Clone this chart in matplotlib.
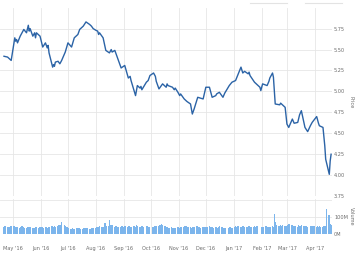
import matplotlib
matplotlib.use("Agg")
import matplotlib.pyplot as plt
import pandas as pd

# Price line (date, close)
price_dates = [
    "2016-04-21", "2016-04-25", "2016-04-29", "2016-05-03", "2016-05-04", "2016-05-05",
    "2016-05-06", "2016-05-09", "2016-05-11", "2016-05-13", "2016-05-16", "2016-05-18",
    "2016-05-19", "2016-05-20", "2016-05-23", "2016-05-25", "2016-05-26", "2016-05-27",
    "2016-05-31", "2016-06-03", "2016-06-06", "2016-06-08", "2016-06-09", "2016-06-10",
    "2016-06-14", "2016-06-15", "2016-06-16", "2016-06-17", "2016-06-20", "2016-06-22",
    "2016-06-24", "2016-06-28", "2016-07-01", "2016-07-05", "2016-07-08", "2016-07-12",
    "2016-07-13", "2016-07-14", "2016-07-18", "2016-07-21", "2016-07-25", "2016-07-27",
    "2016-07-29", "2016-08-01", "2016-08-03", "2016-08-04", "2016-08-05", "2016-08-09",
    "2016-08-12", "2016-08-16", "2016-08-18", "2016-08-19", "2016-08-22", "2016-08-24",
    "2016-08-29", "2016-09-02", "2016-09-06", "2016-09-08", "2016-09-09", "2016-09-14",
    "2016-09-16", "2016-09-19", "2016-09-20", "2016-09-21", "2016-09-26", "2016-09-28",
    "2016-09-30", "2016-10-04", "2016-10-06", "2016-10-07", "2016-10-10", "2016-10-12",
    "2016-10-14", "2016-10-18", "2016-10-19", "2016-10-20", "2016-10-25", "2016-10-27",
    "2016-10-28", "2016-10-31", "2016-11-02", "2016-11-03", "2016-11-07", "2016-11-10",
    "2016-11-14", "2016-11-16", "2016-11-18", "2016-11-22", "2016-11-28", "2016-12-01",
    "2016-12-05", "2016-12-08", "2016-12-12", "2016-12-13", "2016-12-16", "2016-12-20",
    "2016-12-22", "2016-12-27", "2016-12-30", "2017-01-03", "2017-01-09", "2017-01-11",
    "2017-01-13", "2017-01-17", "2017-01-18", "2017-01-19", "2017-01-24", "2017-01-26",
    "2017-01-30", "2017-01-31", "2017-02-02", "2017-02-07", "2017-02-09", "2017-02-10",
    "2017-02-13", "2017-02-14", "2017-02-16", "2017-02-21", "2017-02-22", "2017-02-23",
    "2017-02-27", "2017-03-01", "2017-03-03", "2017-03-07", "2017-03-09", "2017-03-13",
    "2017-03-15", "2017-03-17", "2017-03-21", "2017-03-24", "2017-03-27", "2017-03-29",
    "2017-04-03", "2017-04-04", "2017-04-05", "2017-04-06", "2017-04-10", "2017-04-12",
    "2017-04-13", "2017-04-17", "2017-04-18", "2017-04-19",
]
price_values = [
    5.42, 5.41, 5.37, 5.64, 5.60, 5.62,
    5.58, 5.66, 5.70, 5.74, 5.70, 5.79,
    5.72, 5.75, 5.66, 5.70, 5.64, 5.70,
    5.66, 5.53, 5.58, 5.52, 5.55, 5.46,
    5.29, 5.32, 5.30, 5.35, 5.36, 5.33,
    5.37, 5.47, 5.58, 5.53, 5.64, 5.68,
    5.71, 5.74, 5.78, 5.83, 5.80, 5.78,
    5.75, 5.73, 5.72, 5.68, 5.70, 5.64,
    5.49, 5.46, 5.50, 5.47, 5.49, 5.43,
    5.28, 5.31, 5.16, 5.18, 5.13, 4.95,
    5.07, 5.04, 5.06, 5.02, 5.11, 5.13,
    5.19, 5.22, 5.18, 5.12, 5.03, 5.06,
    5.09, 5.05, 5.09, 5.07, 5.05, 5.02,
    5.04, 4.99, 4.95, 4.97, 4.91, 4.88,
    4.85, 4.73, 4.79, 4.93, 4.91, 5.05,
    5.05, 4.93, 4.95, 4.97, 4.99, 4.93,
    4.98, 5.07, 5.11, 5.13, 5.29, 5.22,
    5.24, 5.21, 5.23, 5.19, 5.11, 5.09,
    5.05, 5.01, 5.09, 5.07, 5.12, 5.16,
    5.22, 5.17, 4.85, 4.84, 4.86, 4.85,
    4.81, 4.61, 4.57, 4.67, 4.62, 4.63,
    4.72, 4.77, 4.57, 4.52, 4.59, 4.63,
    4.70, 4.66, 4.62, 4.59, 4.57, 4.35,
    4.19, 4.01, 4.17, 4.25,
]

# Daily volume in millions, one list per month (trading days in order)
volume_by_month = {
    "2016-04": [40, 45, 38, 42, 35, 40, 44],
    "2016-05": [45, 38, 42, 36, 40, 33, 38, 45, 40, 36, 34, 42, 38, 35, 40, 37, 33, 36, 40, 38, 35, 39],
    "2016-06": [36, 40, 34, 38, 42, 36, 33, 40, 45, 38, 42, 48, 40, 44, 50, 46, 52, 70, 50, 44, 38, 40],
    "2016-07": [35, 32, 30, 34, 31, 28, 33, 30, 35, 32, 29, 31, 34, 30, 33, 36, 31, 30, 34, 32, 35],
    "2016-08": [34, 38, 35, 40, 45, 42, 38, 40, 65, 48, 44, 82, 55, 48, 50, 42, 45, 40, 38, 42, 40, 44, 38],
    "2016-09": [40, 44, 38, 42, 46, 40, 38, 44, 48, 42, 55, 46, 40, 38, 44, 42, 40, 38, 45, 42, 40],
    "2016-10": [42, 38, 44, 40, 46, 48, 50, 45, 60, 50, 44, 40, 38, 36, 34, 38, 35, 33, 36, 34, 38],
    "2016-11": [36, 34, 38, 42, 40, 48, 44, 40, 38, 42, 36, 40, 35, 38, 46, 40, 38, 42, 36, 40, 38, 36],
    "2016-12": [38, 42, 44, 40, 36, 38, 34, 40, 38, 36, 42, 44, 38, 35, 33, 30, 34, 32, 36, 38, 34, 33],
    "2017-01": [40, 44, 38, 42, 46, 40, 38, 44, 48, 42, 40, 38, 44, 42, 40, 38, 45, 42, 40, 44],
    "2017-02": [42, 38, 40, 44, 38, 40, 36, 42, 44, 40, 115, 70, 55, 48, 44, 50, 46, 52, 44],
    "2017-03": [48, 52, 60, 55, 50, 46, 44, 48, 42, 50, 46, 44, 54, 48, 46, 44, 40, 42, 44, 46, 48, 42, 44],
    "2017-04": [40, 44, 42, 46, 40, 38, 44, 48, 42, 145, 110, 60, 55],
}

month_ticks = pd.date_range("2016-05-01", "2017-04-01", freq="MS")
month_labels = ["May '16", "Jun '16", "Jul '16", "Aug '16", "Sep '16", "Oct '16",
                "Nov '16", "Dec '16", "Jan '17", "Feb '17", "Mar '17", "Apr '17"]
price_ticks = [3.75, 4.00, 4.25, 4.50, 4.75, 5.00, 5.25, 5.50, 5.75]
volume_ticks = [0, 100, 200]
volume_labels = ["0M", "100M", ""]

LINE_COLOR = "#2b63a6"
BAR_COLOR = "#7cb5ec"
GRID_COLOR = "#e6e6e6"
TEXT_COLOR = "#6b6b6b"
FONT_SIZE = 3.6

x_start = pd.Timestamp("2016-04-16 14:00")
x_end = pd.Timestamp("2017-04-19 22:00")


def style_axis(ax):
    for spine in ax.spines.values():
        spine.set_visible(False)
    ax.yaxis.tick_right()
    ax.tick_params(axis="both", length=0, labelsize=FONT_SIZE, colors=TEXT_COLOR)
    ax.tick_params(axis="y", pad=1.5)
    ax.set_xlim(x_start, x_end)
    ax.set_xticks(month_ticks)
    ax.grid(True, color=GRID_COLOR, linewidth=0.6)
    ax.set_axisbelow(True)
    # right axis line
    ax.axvline(x_end, color="#d8d8d8", linewidth=0.6)


fig = plt.figure(figsize=(3.6, 2.56), dpi=100)
ax_price = fig.add_axes([0.0, 0.234, 0.922, 0.736])
ax_vol = fig.add_axes([0.0, 0.086, 0.922, 0.137])

ax_price.plot(pd.to_datetime(price_dates), price_values, color=LINE_COLOR,
              linewidth=1.0, solid_joinstyle="round")
ax_price.set_ylim(3.75, 6.0)
ax_price.set_yticks(price_ticks)
ax_price.set_yticklabels([f"{v:.2f}" for v in price_ticks])
style_axis(ax_price)
ax_price.set_xticklabels([])
ax_price.yaxis.set_label_position("right")
ax_price.set_ylabel("Price", rotation=270, fontsize=FONT_SIZE, color=TEXT_COLOR, labelpad=6)

vol_dates = []
vol_values = []
for month, values in volume_by_month.items():
    days = pd.bdate_range(month + "-01", pd.Period(month).end_time.normalize())
    if month == "2016-04":
        days = days[days >= "2016-04-21"]
    for day, value in zip(days, values):
        vol_dates.append(day)
        vol_values.append(value)

ax_vol.bar(vol_dates, vol_values, width=1.8, color=BAR_COLOR, linewidth=0)
ax_vol.set_ylim(0, 205)
ax_vol.set_yticks(volume_ticks)
ax_vol.set_yticklabels(volume_labels)
style_axis(ax_vol)
ax_vol.set_xticklabels(month_labels)
ax_vol.tick_params(axis="x", pad=9)
ax_vol.yaxis.set_label_position("right")
ax_vol.set_ylabel("Volume", rotation=270, fontsize=FONT_SIZE, color=TEXT_COLOR, labelpad=4)

# faint range-selector inputs at the top
fig.add_artist(plt.Line2D([250 / 360, 287 / 360], [0.988, 0.988], color="#e3e3e3", linewidth=0.8))
fig.add_artist(plt.Line2D([305 / 360, 342 / 360], [0.988, 0.988], color="#e3e3e3", linewidth=0.8))

fig.savefig("out.png", dpi=100)
plt.close(fig)
